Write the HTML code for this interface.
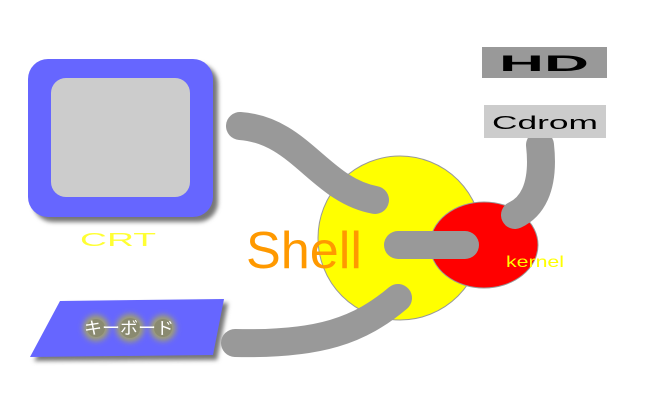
<!DOCTYPE html>
<html><head><style>body{margin:0;background:#fff}</style></head><body>
<svg width="650" height="400" xmlns="http://www.w3.org/2000/svg" style="display:block">
<defs>
<filter id="b" x="-20%" y="-20%" width="140%" height="140%"><feGaussianBlur stdDeviation="2"/></filter>
<filter id="g" x="-50%" y="-50%" width="200%" height="200%"><feGaussianBlur stdDeviation="3"/></filter>
</defs>
<rect x="33" y="64" width="185" height="158" rx="20" fill="#777" filter="url(#b)"/>
<rect x="28" y="59" width="185" height="158" rx="20" fill="#6666ff"/>
<rect x="51" y="78" width="139" height="119" rx="15" fill="#cccccc"/>
<text x="118" y="246" font-family="Liberation Sans,sans-serif" font-size="18" fill="#ffff33" text-anchor="middle" textLength="76" lengthAdjust="spacingAndGlyphs">CRT</text>
<polygon points="64,305 228,303 217,360 34,361" fill="#777" filter="url(#b)"/>
<polygon points="60,301 224,299 213,355 30,357" fill="#6666ff"/>
<g filter="url(#g)" fill="#a0a070"><circle cx="96" cy="328" r="13"/><circle cx="130" cy="328" r="14"/><circle cx="163" cy="328" r="13"/></g>
<g fill="#8a8a70"><circle cx="96" cy="328" r="9"/><circle cx="130" cy="328" r="10"/><circle cx="163" cy="328" r="9"/></g>
<text x="129" y="334" font-family="Liberation Sans,'Noto Sans CJK JP',sans-serif" font-size="17" fill="#fff" text-anchor="middle" textLength="90" lengthAdjust="spacingAndGlyphs">キーボード</text>
<ellipse cx="400" cy="238" rx="82" ry="82" fill="#ffff00" stroke="#999" stroke-width="1"/>
<ellipse cx="484" cy="245" rx="54" ry="43" fill="#ff0000" stroke="#999" stroke-width="1"/>
<g fill="none" stroke="#999" stroke-width="28" stroke-linecap="round">
<path d="M240,126 C300,130 320,190 375,200"/>
<path d="M398,245 L465,245"/>
<path d="M235,343 C320,345 360,330 398,298"/>
<path d="M540,145 C545,190 530,208 515,215"/>
</g>
<text x="246" y="268" font-family="Liberation Sans,sans-serif" font-size="52" fill="#ff9900" textLength="116" lengthAdjust="spacingAndGlyphs">Shell</text>
<text x="506" y="267" font-family="Liberation Sans,sans-serif" font-size="16" fill="#ffff00" textLength="58" lengthAdjust="spacingAndGlyphs">kernel</text>
<rect x="482" y="47" width="125" height="31" fill="#999"/>
<text x="544" y="71" font-family="Liberation Sans,sans-serif" font-size="22" font-weight="bold" fill="#000" text-anchor="middle" textLength="90" lengthAdjust="spacingAndGlyphs">HD</text>
<rect x="484" y="105" width="122" height="33" fill="#cccccc"/>
<text x="545" y="129" font-family="Liberation Sans,sans-serif" font-size="18" fill="#000" text-anchor="middle" textLength="106" lengthAdjust="spacingAndGlyphs">Cdrom</text>
</svg>
</body></html>
